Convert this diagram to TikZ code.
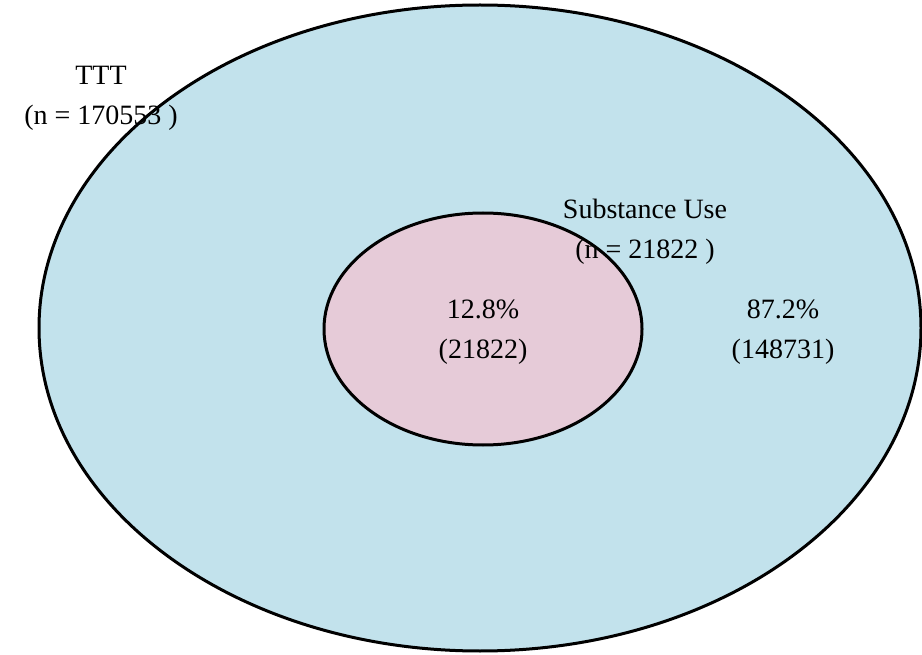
\documentclass[tikz,border=0pt]{standalone}
\usepackage{fontspec}
\setmainfont{Liberation Serif}
\usepackage{tikz}
\definecolor{vennB}{RGB}{194,226,236}
\definecolor{vennP}{RGB}{230,203,216}
\tikzset{vlab/.style={font=\fontsize{28}{40}\selectfont, align=center, inner sep=0pt}}

\begin{document}
\begin{tikzpicture}[x=1pt,y=-1pt]
\useasboundingbox (0,0) rectangle (922,655);
% ======== fills: whole cohort and substance use ========
\fill[vennB] (480,328) ellipse[x radius=441, y radius=323];
\fill[vennP] (483,329) ellipse[x radius=159, y radius=116];
% ======== labels ========
\node[vlab] (ttt) at (101,98.5) {TTT\\(n = 170553 )};
\node[vlab] (sub) at (645,232) {Substance Use\\(n = 21822 )};
\node[vlab] (inpct) at (483,332) {12.8\%\\(21822)};
\node[vlab] (outpct) at (783,332) {87.2\%\\(148731)};
% ======== outlines (drawn over the text) ========
\draw[line width=3pt] (480,328) ellipse[x radius=441, y radius=323];
\draw[line width=3pt] (483,329) ellipse[x radius=159, y radius=116];
\end{tikzpicture}
\end{document}
